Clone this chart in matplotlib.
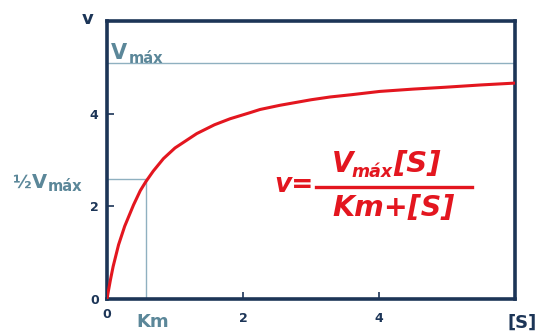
import matplotlib
matplotlib.use("Agg")
import matplotlib.pyplot as plt
from matplotlib.lines import Line2D

# ---- data ----
substrate = [0, 0.02, 0.05, 0.09, 0.17, 0.26, 0.39, 0.49, 0.57, 0.68, 0.83, 1.00,
             1.32, 1.58, 1.81, 2.10, 2.25, 2.54, 3.00, 3.28, 3.60, 4.01, 4.50,
             4.97, 5.50, 6.00]
velocity = [0, 0.17, 0.41, 0.70, 1.17, 1.57, 2.03, 2.34, 2.53, 2.76, 3.03, 3.26,
            3.57, 3.76, 3.89, 4.02, 4.09, 4.18, 4.30, 4.36, 4.41, 4.48, 4.53,
            4.57, 4.62, 4.66]
vmax_level = 5.1
half_vmax_level = 2.58
km_value = 0.57
x_ticks = [2, 4]
y_ticks = [0, 2, 4]

W, H = 542, 331
fig = plt.figure(figsize=(W / 100, H / 100), dpi=100)
fig.patch.set_facecolor("white")

def fx(px):
    return px / W

def fy(py):
    return 1 - py / H

ax = fig.add_axes([fx(107), fy(299), fx(515) - fx(107), fy(21) - fy(299)])
ax.set_xlim(0, 6)
ax.set_ylim(0, 6)

navy = "#1c3557"
slate = "#5b8799"
guide = "#8fb0c0"
red = "#e3161f"

for s in ax.spines.values():
    s.set_color(navy)
    s.set_linewidth(2.6)

# guide lines
ax.plot([0, 6], [vmax_level, vmax_level], color=guide, lw=1.0, zorder=1)
ax.plot([0, km_value], [half_vmax_level, half_vmax_level], color=guide, lw=1.0, zorder=1)
ax.plot([km_value, km_value], [0, half_vmax_level], color=guide, lw=1.0, zorder=1)

# curve
ax.plot(substrate, velocity, color=red, lw=2.2, zorder=3,
        solid_capstyle="round", solid_joinstyle="round")

ax.set_xticks(x_ticks)
ax.set_yticks(y_ticks)
ax.tick_params(axis="both", direction="in", length=5, width=1.2, color=navy,
               labelcolor=navy, labelsize=9)
ax.tick_params(axis="x", pad=9)
ax.tick_params(axis="y", pad=6)
for lab in ax.get_xticklabels() + ax.get_yticklabels():
    lab.set_fontweight("bold")

fig.canvas.draw()
renderer = fig.canvas.get_renderer()


def put(px, py, s, size, color, italic=False, ha="left", va="baseline"):
    t = fig.text(fx(px), fy(py), s, color=color, fontsize=size, fontweight="bold",
                 style="italic" if italic else "normal", ha=ha, va=va)
    bb = t.get_window_extent(renderer)
    return bb.x1  # right edge in pixels


# extra "0" under origin
put(107, 315, "0", 9, navy, ha="center", va="center")

# axis labels
put(88, 19, "v", 13, navy, ha="center", va="center")
put(522, 323, "[S]", 13, navy, ha="center", va="center")

# Vmax label
r = put(111, 59, "V", 15, slate)
put(r + 2, 63, "máx", 10.5, slate)

# 1/2 Vmax label
r = put(12, 188, "½", 13, slate)
r = put(r + 1, 188, "V", 14, slate)
put(r + 1, 191, "máx", 10.5, slate)

# Km label
put(153, 322, "Km", 13, slate, ha="center", va="center")

# formula
put(294, 192, "v=", 19, red, italic=True, ha="center")
r = put(332, 172, "V", 20, red, italic=True)
r = put(r - 2, 177, "máx", 12.5, red, italic=True)
put(r + 1, 172, "[S]", 21, red, italic=True)
fig.add_artist(Line2D([fx(316), fx(472)], [fy(187), fy(187)], color=red, lw=2.4,
                      transform=fig.transFigure))
put(394, 216, "Km+[S]", 20.5, red, italic=True, ha="center")

fig.savefig("out.png", dpi=100, facecolor="white")
